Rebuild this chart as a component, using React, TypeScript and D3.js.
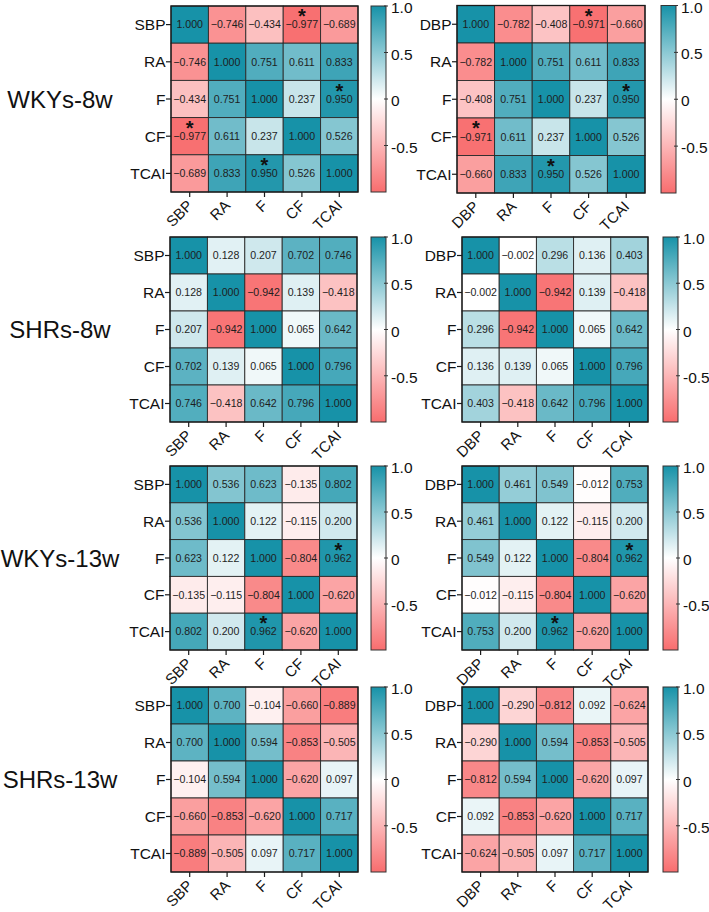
import React from "react";
import * as d3 from "d3";

// ---------- DATA ----------
const varsSBP = ["SBP", "RA", "F", "CF", "TCAI"];
const varsDBP = ["DBP", "RA", "F", "CF", "TCAI"];
const groupLabels = ["WKYs-8w", "SHRs-8w", "WKYs-13w", "SHRs-13w"];
const colorbarTicks = [1.0, 0.5, 0, -0.5];
const colorbarTickLabels = ["1.0", "0.5", "0", "-0.5"];

const wky8SBP = [
  [1.0, -0.746, -0.434, -0.977, -0.689],
  [-0.746, 1.0, 0.751, 0.611, 0.833],
  [-0.434, 0.751, 1.0, 0.237, 0.95],
  [-0.977, 0.611, 0.237, 1.0, 0.526],
  [-0.689, 0.833, 0.95, 0.526, 1.0],
];
const wky8DBP = [
  [1.0, -0.782, -0.408, -0.971, -0.66],
  [-0.782, 1.0, 0.751, 0.611, 0.833],
  [-0.408, 0.751, 1.0, 0.237, 0.95],
  [-0.971, 0.611, 0.237, 1.0, 0.526],
  [-0.66, 0.833, 0.95, 0.526, 1.0],
];
const shr8SBP = [
  [1.0, 0.128, 0.207, 0.702, 0.746],
  [0.128, 1.0, -0.942, 0.139, -0.418],
  [0.207, -0.942, 1.0, 0.065, 0.642],
  [0.702, 0.139, 0.065, 1.0, 0.796],
  [0.746, -0.418, 0.642, 0.796, 1.0],
];
const shr8DBP = [
  [1.0, -0.002, 0.296, 0.136, 0.403],
  [-0.002, 1.0, -0.942, 0.139, -0.418],
  [0.296, -0.942, 1.0, 0.065, 0.642],
  [0.136, 0.139, 0.065, 1.0, 0.796],
  [0.403, -0.418, 0.642, 0.796, 1.0],
];
const wky13SBP = [
  [1.0, 0.536, 0.623, -0.135, 0.802],
  [0.536, 1.0, 0.122, -0.115, 0.2],
  [0.623, 0.122, 1.0, -0.804, 0.962],
  [-0.135, -0.115, -0.804, 1.0, -0.62],
  [0.802, 0.2, 0.962, -0.62, 1.0],
];
const wky13DBP = [
  [1.0, 0.461, 0.549, -0.012, 0.753],
  [0.461, 1.0, 0.122, -0.115, 0.2],
  [0.549, 0.122, 1.0, -0.804, 0.962],
  [-0.012, -0.115, -0.804, 1.0, -0.62],
  [0.753, 0.2, 0.962, -0.62, 1.0],
];
const shr13SBP = [
  [1.0, 0.7, -0.104, -0.66, -0.889],
  [0.7, 1.0, 0.594, -0.853, -0.505],
  [-0.104, 0.594, 1.0, -0.62, 0.097],
  [-0.66, -0.853, -0.62, 1.0, 0.717],
  [-0.889, -0.505, 0.097, 0.717, 1.0],
];
const shr13DBP = [
  [1.0, -0.29, -0.812, 0.092, -0.624],
  [-0.29, 1.0, 0.594, -0.853, -0.505],
  [-0.812, 0.594, 1.0, -0.62, 0.097],
  [0.092, -0.853, -0.62, 1.0, 0.717],
  [-0.624, -0.505, 0.097, 0.717, 1.0],
];

// significant cells [row, col]
const wky8Stars = [[0, 3], [2, 4], [3, 0], [4, 2]];
const shr8Stars: number[][] = [];
const wky13Stars = [[2, 4], [4, 2]];
const shr13Stars: number[][] = [];

// ---------- STYLE / LAYOUT ----------
const W = 709;
const H = 912;
const TEAL = "#1792a8";
const RED = "#f86d6e";
const FONT = "Liberation Sans, Arial, Helvetica, sans-serif";

const color = d3
  .scaleLinear<string>()
  .domain([-1, 0, 1])
  .range([RED, "#ffffff", TEAL])
  .interpolate(d3.interpolateRgb)
  .clamp(true);

const panels = [
  { m: wky8SBP, vars: varsSBP, stars: wky8Stars, x: 171, y: 6, w: 187, h: 186, cb: 371 },
  { m: wky8DBP, vars: varsDBP, stars: wky8Stars, x: 457, y: 5.5, w: 188, h: 187.5, cb: 661 },
  { m: shr8SBP, vars: varsSBP, stars: shr8Stars, x: 170, y: 237, w: 187, h: 185, cb: 371 },
  { m: shr8DBP, vars: varsDBP, stars: shr8Stars, x: 462, y: 237, w: 186, h: 185, cb: 663 },
  { m: wky13SBP, vars: varsSBP, stars: wky13Stars, x: 170, y: 466, w: 187, h: 184, cb: 371 },
  { m: wky13DBP, vars: varsDBP, stars: wky13Stars, x: 462, y: 466, w: 186, h: 184, cb: 663 },
  { m: shr13SBP, vars: varsSBP, stars: shr13Stars, x: 171, y: 687, w: 187, h: 185, cb: 371 },
  { m: shr13DBP, vars: varsDBP, stars: shr13Stars, x: 462, y: 687, w: 186, h: 185, cb: 663 },
];

const fmt = d3.format(".3f");

function Heatmap({ p, idx }: { p: (typeof panels)[number]; idx: number }) {
  const xs = d3.scaleBand<string>().domain(p.vars).range([p.x, p.x + p.w]);
  const ys = d3.scaleBand<string>().domain(p.vars).range([p.y, p.y + p.h]);
  const cbScale = d3.scaleLinear().domain([-1, 1]).range([p.y + p.h, p.y]);
  const cbW = 15;
  const starSet = new Set(p.stars.map((s) => s[0] + "-" + s[1]));
  const gid = "cbgrad" + idx;
  const bottom = p.y + p.h;
  return (
    <g>
      <defs>
        <linearGradient id={gid} x1="0" y1="1" x2="0" y2="0">
          {d3.range(0, 21).map((i) => {
            const v = -1 + i * 0.1;
            return <stop key={i} offset={`${(i / 20) * 100}%`} stopColor={color(v)} />;
          })}
        </linearGradient>
      </defs>
      {p.m.map((row, r) =>
        row.map((v, c) => {
          const x = xs(p.vars[c])!;
          const y = ys(p.vars[r])!;
          return (
            <rect key={r + "-" + c} x={x} y={y} width={xs.bandwidth()} height={ys.bandwidth()} fill={color(v)} stroke="#2a2a2a" strokeWidth={0.9} />
          );
        })
      )}
      {p.m.map((row, r) =>
        row.map((v, c) => {
          const cx = xs(p.vars[c])! + xs.bandwidth() / 2;
          const cy = ys(p.vars[r])! + ys.bandwidth() / 2;
          const star = starSet.has(r + "-" + c);
          return (
            <g key={"t" + r + "-" + c}>
              <text x={cx} y={cy} dy="0.36em" textAnchor="middle" fontSize={10.6} fill="#1e1e1e" fontFamily={FONT}>
                {fmt(v)}
              </text>
              {star && (
                <text x={cx} y={cy - 1.5} textAnchor="middle" fontSize={20} fontWeight="bold" fill="#111" fontFamily={FONT}>
                  *
                </text>
              )}
            </g>
          );
        })
      )}
      <rect x={p.x} y={p.y} width={p.w} height={p.h} fill="none" stroke="#1a1a1a" strokeWidth={1.3} />
      {/* y axis */}
      {p.vars.map((v) => {
        const cy = ys(v)! + ys.bandwidth() / 2;
        return (
          <g key={"y" + v}>
            <line x1={p.x - 5} x2={p.x} y1={cy} y2={cy} stroke="#1a1a1a" strokeWidth={1.2} />
            <text x={p.x - 5.5} y={cy} dy="0.36em" textAnchor="end" fontSize={15.5} fill="#111" fontFamily={FONT}>
              {v}
            </text>
          </g>
        );
      })}
      {/* x axis */}
      {p.vars.map((v) => {
        const cx = xs(v)! + xs.bandwidth() / 2;
        return (
          <g key={"x" + v}>
            <line x1={cx} x2={cx} y1={bottom} y2={bottom + 5} stroke="#1a1a1a" strokeWidth={1.2} />
            <text
              transform={`translate(${cx + 4},${bottom + 14.5}) rotate(-45)`}
              textAnchor="end"
              fontSize={15}
              fill="#111"
              fontFamily={FONT}
            >
              {v}
            </text>
          </g>
        );
      })}
      {/* colorbar */}
      <rect x={p.cb} y={p.y} width={cbW} height={p.h} fill={`url(#${gid})`} stroke="#333" strokeWidth={1} />
      {colorbarTicks.map((t, i) => (
        <g key={"cb" + i}>
          <line x1={p.cb + cbW - 2} x2={p.cb + cbW + 2} y1={cbScale(t)} y2={cbScale(t)} stroke="#333" strokeWidth={1} />
          <text x={p.cb + cbW + 5} y={cbScale(t) + 1.5} dy="0.36em" fontSize={15.5} fill="#111" fontFamily={FONT}>
            {colorbarTickLabels[i]}
          </text>
        </g>
      ))}
    </g>
  );
}

export default function App() {
  return (
    <svg width={W} height={H} style={{ position: "absolute", left: 0, top: 0, background: "#fff" }}>
      <rect x={0} y={0} width={W} height={H} fill="#fff" />
      {panels.map((p, i) => (
        <Heatmap key={i} p={p} idx={i} />
      ))}
      {groupLabels.map((g, i) => {
        const p = panels[i * 2];
        return (
          <text key={g} x={60} y={p.y + p.h / 2} dy="0.36em" textAnchor="middle" fontSize={24} fill="#111" fontFamily={FONT}>
            {g}
          </text>
        );
      })}
    </svg>
  );
}
